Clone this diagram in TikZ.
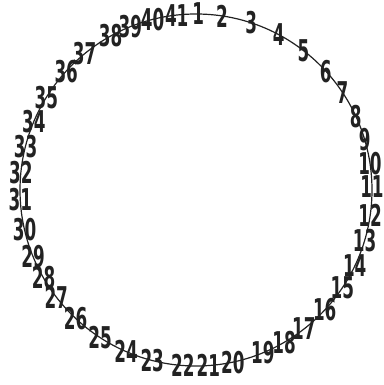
\documentclass[tikz,border=0pt]{standalone}
\usepackage{fontspec}
\setmainfont{DejaVu Sans}[FakeStretch=0.56]
\usepackage{xcolor}
\definecolor{inkgray}{RGB}{34,34,34}
\tikzset{
  ring/.style={draw=inkgray, line width=1.2pt},
  numlabel/.style={
    inner sep=0pt, text=inkgray,
    font=\fontsize{30}{30}\selectfont\bfseries
  },
}

\begin{document}
\begin{tikzpicture}[x=1pt, y=1pt]

  % Canvas
  \useasboundingbox (0,0) rectangle (383,385);

  % Ring
  \coordinate (centre) at (196,195);
  \draw[ring] (centre) circle (176);

  % Numbers placed round the ring
  \foreach \n/\a in {1/89.3, 2/81.5, 3/71.7, 4/62, 5/52.4, 6/42.5, 7/33.6,
                     8/24.8, 9/16.5, 10/8.7, 11/1, 12/-8.4, 13/-16.7,
                     14/-25.6, 15/-33.7, 16/-43, 17/-52.2, 18/-60,
                     19/-67.7, 20/-77.9, 21/-86, 22/-94.3, 23/-104.4,
                     24/-113.4, 25/-123, 26/-133.2, 27/-142.6, 28/-150,
                     29/-157.7, 30/-167, 31/-176.8, 32/174.2, 33/165.6,
                     34/157.1, 35/148.3, 36/137.5, 37/129.3, 38/119,
                     39/111.9, 40/104.3, 41/96.3}
    \node[numlabel] (n\n) at ([shift={(\a:176)}]centre) {\n};

\end{tikzpicture}
\end{document}
